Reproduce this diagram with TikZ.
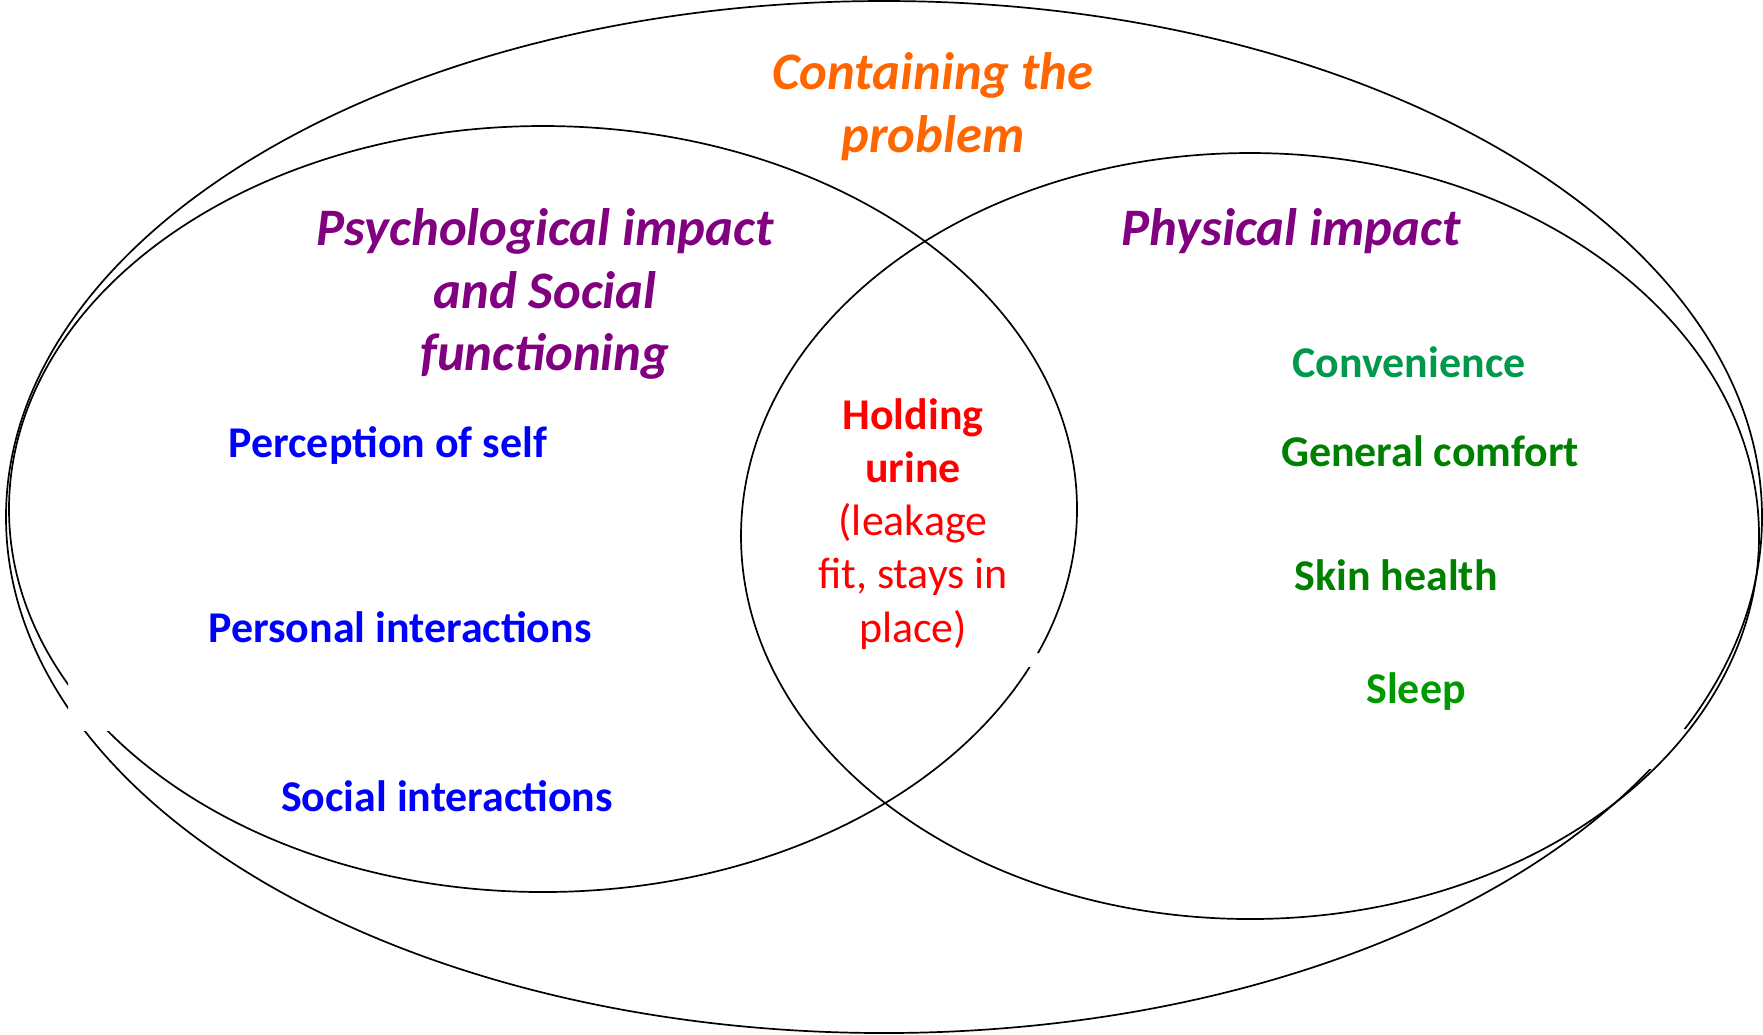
\documentclass[tikz,border=0pt]{standalone}
\usepackage{fontspec}
\setmainfont{Carlito}
\definecolor{orangetitle}{RGB}{255,102,0}
\definecolor{purpletitle}{RGB}{128,0,128}
\definecolor{blueitem}{RGB}{0,0,255}
\definecolor{reditem}{RGB}{255,0,0}
\definecolor{greenA}{RGB}{0,153,76}
\definecolor{greenB}{RGB}{0,128,0}
\definecolor{greenC}{RGB}{0,153,0}
\begin{document}
\begin{tikzpicture}[x=0.1mm,y=-0.1mm,
   heading/.style={font=\fontsize{15}{17.9}\selectfont\bfseries\itshape,align=center,inner sep=0pt},
   item/.style={font=\fontsize{12.5}{15}\selectfont\bfseries,inner sep=0pt}]
   \useasboundingbox (0,0) rectangle (1763,1034);

   \begin{scope}[even odd rule]
   \clip (0,0) rectangle (1763,1034)
      (68,600) rectangle (130,731) (1640,729) rectangle (1700,769);
   \draw[line width=0.17mm] (884,517) ellipse[x radius=878,y radius=516];
   \end{scope}
   \begin{scope}[even odd rule]
   \clip (0,0) rectangle (1763,1034)
      (68,600) rectangle (130,731) (1020,653) rectangle (1060,667);
   \draw[line width=0.17mm] (543,509) ellipse[x radius=534,y radius=383];
   \end{scope}
   \draw[line width=0.17mm] (1250,536) ellipse[x radius=509,y radius=383];

   \node[heading,text=orangetitle] (contain) at (933,107) {Containing the\\problem};
   \node[heading,text=purpletitle] (psych) at (545,294) {Psychological impact\\and Social\\functioning};
   \node[heading,text=purpletitle] (phys) at (1291,231) {Physical impact};

   \node[item,text=blueitem] (self) at (388,445) {Perception of self};
   \node[item,text=blueitem] (personal) at (400,627) {Personal interactions};
   \node[item,text=blueitem] (social) at (447,796) {Social interactions};

   \node[item,text=reditem,font=\fontsize{12.5}{15.1}\selectfont,align=center] (hold) at (913,524)
      {\textbf{Holding}\\\textbf{urine}\\(leakage\\fit, stays in\\place)};

   \node[item,text=greenA] (conv) at (1409,362) {Convenience};
   \node[item,text=greenB] (comfort) at (1430,451) {General comfort};
   \node[item,text=greenB] (skin) at (1396,575) {Skin health};
   \node[item,text=greenC] (sleep) at (1416,692) {Sleep};
\end{tikzpicture}
\end{document}
